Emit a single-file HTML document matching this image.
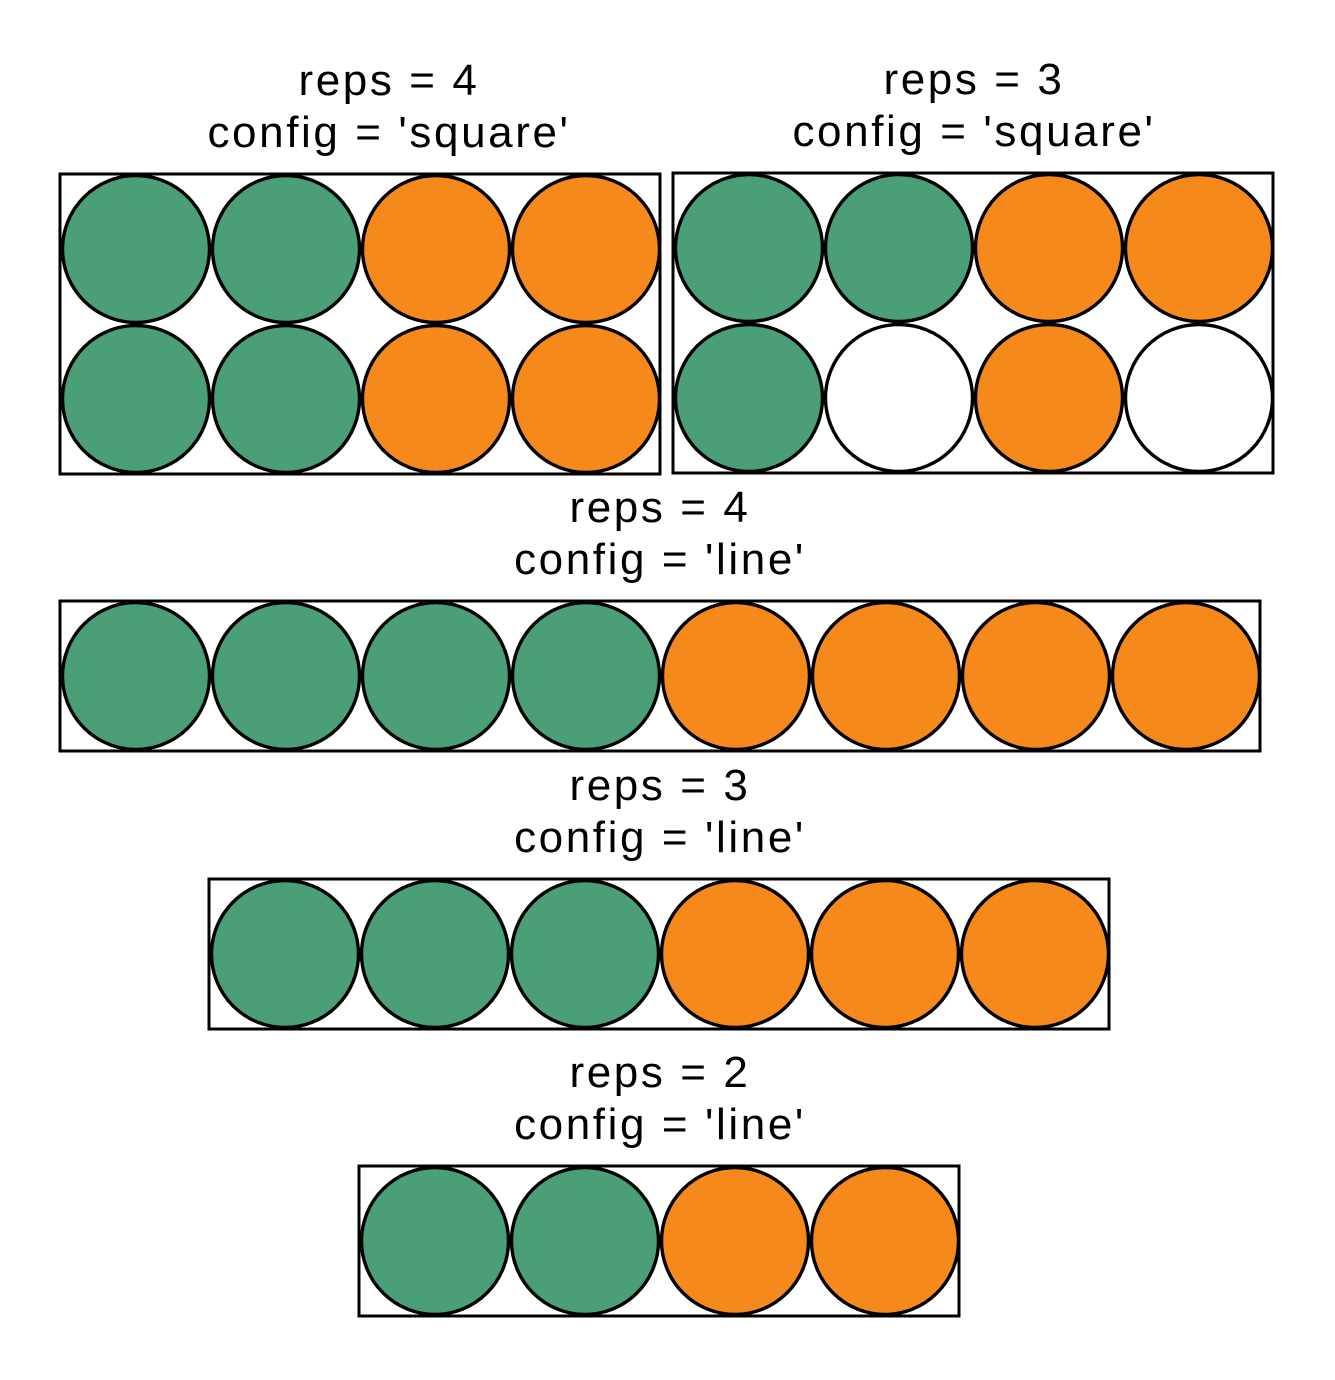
<!DOCTYPE html>
<html><head><meta charset="utf-8">
<style>
html,body{margin:0;padding:0;background:#fff;}
svg{display:block;}
text{font-family:"Liberation Sans",Arial,sans-serif;font-size:44px;fill:#000;letter-spacing:2.6px;}
</style></head>
<body>
<svg id="chart" width="1335" height="1380" viewBox="0 0 1335 1380" xmlns="http://www.w3.org/2000/svg"></svg>
<script>
// Data per panel
const panelReps = [4, 3, 4, 3, 2];
const panelConfig = ['square', 'square', 'line', 'line', 'line'];
const greenCounts = [4, 3, 4, 3, 2];
const orangeCounts = [4, 3, 4, 3, 2];
const slotCols = [4, 4, 8, 6, 4];
const slotRows = [2, 2, 1, 1, 1];
const GREEN = '#4a9f78', ORANGE = '#f5891b';
const NS = 'http://www.w3.org/2000/svg';
const svg = document.getElementById('chart');
const D = 150, R = 73.5;
const origins = [[60,174],[673,173],[60,601],[209,879],[359,1166]];
const titleCenters = [389, 974, 660, 660, 660];
function mk(tag, attrs){const e=document.createElementNS(NS,tag);for(const k in attrs)e.setAttribute(k,attrs[k]);return e;}
for (let p = 0; p < panelReps.length; p++) {
  const [ox, oy] = origins[p];
  const cols = slotCols[p], rows = slotRows[p];
  const w = cols * D, h = rows * D;
  const g = mk('g', {});
  
  
  svg.appendChild(g);
  const cx0 = titleCenters[p];
  const t1 = mk('text', {x: cx0, y: oy - 79, 'text-anchor': 'middle'});
  t1.textContent = 'reps = ' + panelReps[p];
  
  
  g.appendChild(t1);
  const t2 = mk('text', {x: cx0, y: oy - 27, 'text-anchor': 'middle'});
  t2.textContent = "config = '" + panelConfig[p] + "'";
  
  
  g.appendChild(t2);
  const fills = [];
  for (let r = 0; r < rows; r++) { fills.push(new Array(cols).fill('#fff')); }
  if (rows === 1) {
    for (let i = 0; i < greenCounts[p]; i++) fills[0][i] = GREEN;
    for (let i = 0; i < orangeCounts[p]; i++) fills[0][cols/2 + i] = ORANGE;
  } else {
    const half = cols / 2;
    for (let i = 0; i < greenCounts[p]; i++) { const c = Math.floor(i / rows), r = i % rows; fills[r][c] = GREEN; }
    for (let i = 0; i < orangeCounts[p]; i++) { const c = half + Math.floor(i / rows), r = i % rows; fills[r][c] = ORANGE; }
  }
  for (let r = 0; r < rows; r++) for (let c = 0; c < cols; c++) {
    const circ = mk('circle', {cx: ox + D*c + D/2 + 1, cy: oy + D*r + D/2, r: R, fill: fills[r][c], stroke: '#000', 'stroke-width': 3.4});
    
    
    g.appendChild(circ);
  }
  const box = mk('rect', {x: ox, y: oy, width: w, height: h, fill: 'none', stroke: '#000', 'stroke-width': 3});
  
  
  g.appendChild(box);
}
</script>
</body></html>
